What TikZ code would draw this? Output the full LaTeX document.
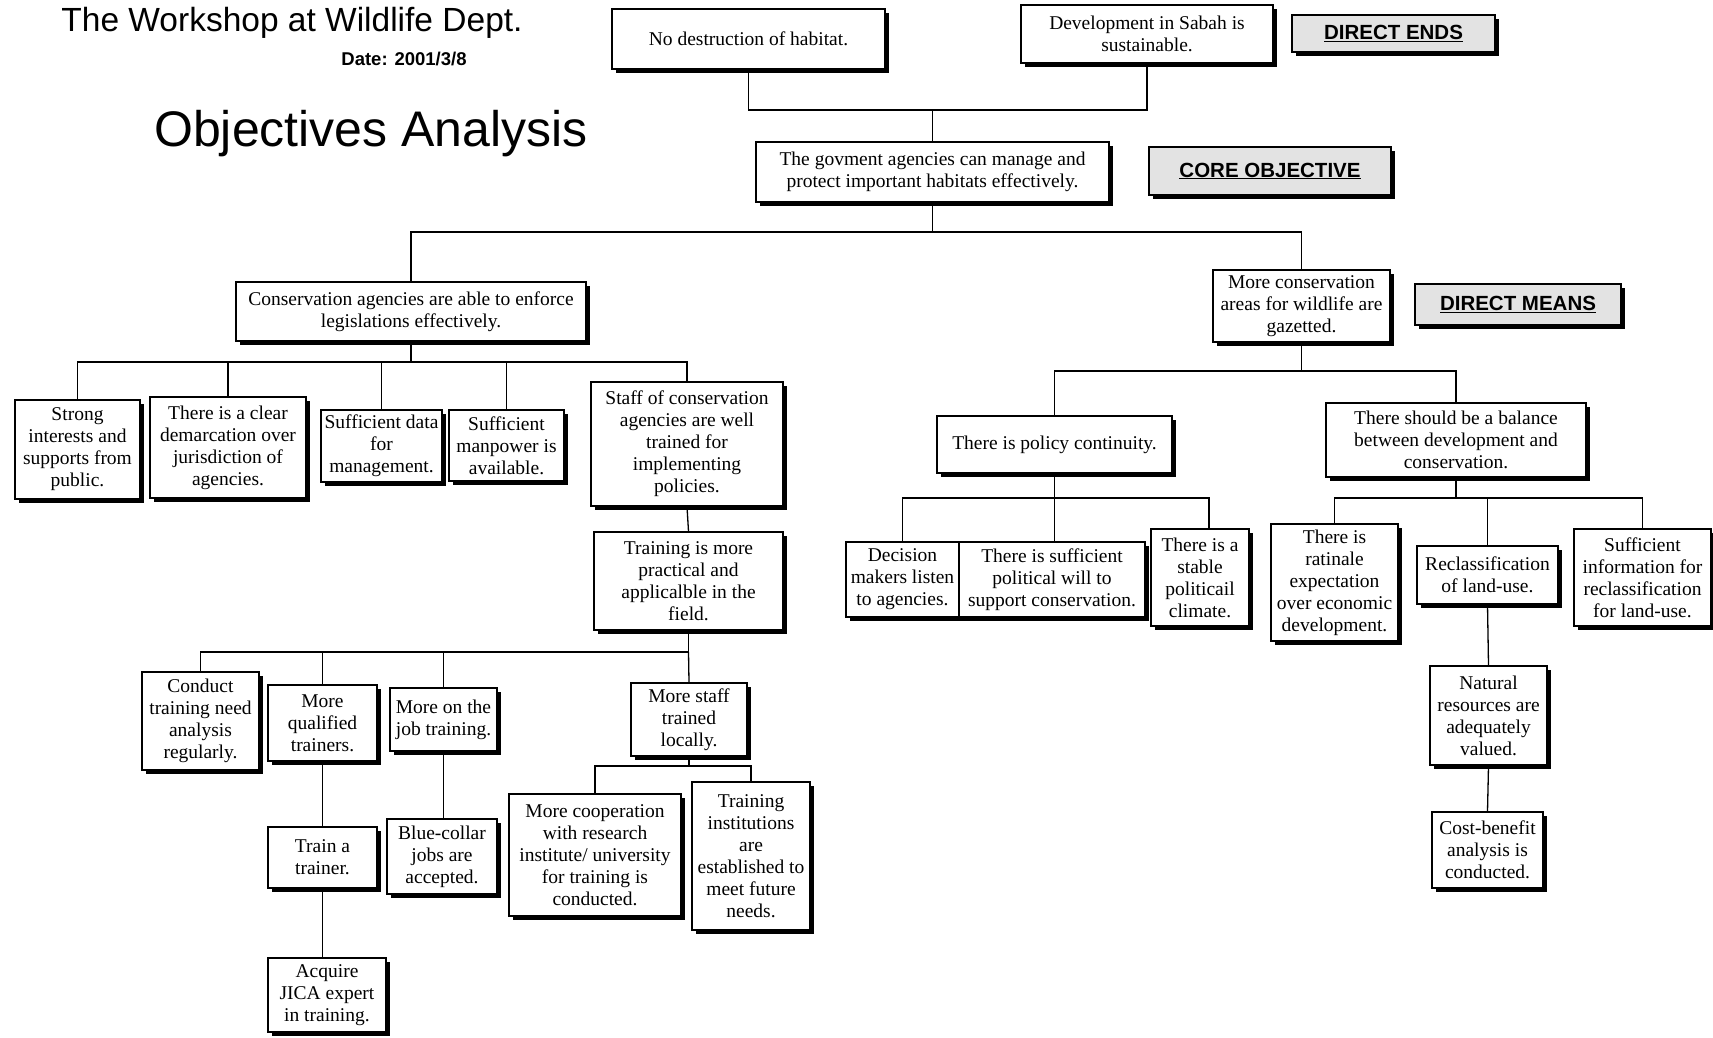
\documentclass[tikz,border=0pt]{standalone}
\usepackage{fontspec}
\setmainfont{Liberation Serif}
\newfontfamily\headfont{Liberation Sans}
\usetikzlibrary{shadows}
\begin{document}
\begin{tikzpicture}[x=1pt,y=-1pt,
  box/.style={draw, line width=1.5pt, fill=white,
    drop shadow={shadow xshift=4pt, shadow yshift=-4pt, opacity=1, fill=black},
    align=center, inner sep=1pt, font=\fontsize{19.5}{22}\selectfont},
  tag/.style={draw, line width=1.5pt, fill=gray!22,
    drop shadow={shadow xshift=4pt, shadow yshift=-4pt, opacity=1, fill=black},
    inner sep=1pt, font=\headfont\bfseries\fontsize{20.5}{24}\selectfont},
  link/.style={line width=1.3pt}]
\fill[white] (0,0) rectangle (1713,1037);
\useasboundingbox (0,0) rectangle (1713,1037);

% headings
\node[font=\headfont\fontsize{33.5}{38}\selectfont] (title) at (292,23) {The Workshop at Wildlife Dept.};
\node[font=\headfont\bfseries\fontsize{18.5}{22}\selectfont] (date) at (404,59) {Date: 2001/3/8};
\node[font=\headfont\fontsize{50}{56}\selectfont] (heading) at (371,134) {Objectives Analysis};

% direct ends and core objective
\node[box, minimum width=273, minimum height=60] (ends1) at (748.5,39) {No destruction of habitat.};
\node[box, minimum width=252, minimum height=58] (ends2) at (1147,34) {Development in Sabah is\\sustainable.};
\node[tag, minimum width=203, minimum height=37] (tagends) at (1393.5,33.5) {\underline{DIRECT ENDS}};
\node[box, minimum width=353, minimum height=60] (core) at (932.5,172) {The govment agencies can manage and\\protect important habitats effectively.};
\node[tag, minimum width=242, minimum height=48] (tagcore) at (1270,171) {\underline{CORE OBJECTIVE}};

% direct means
\node[box, minimum width=350, minimum height=59] (enforce) at (411,311.5) {Conservation agencies are able to enforce\\legislations effectively.};
\node[box, minimum width=177, minimum height=72] (areas) at (1301.5,306) {More conservation\\areas for wildlife are\\gazetted.};
\node[tag, minimum width=206, minimum height=41] (tagmeans) at (1518,304.5) {\underline{DIRECT MEANS}};

% left branch
\node[box, minimum width=125, minimum height=99] (strong) at (77.5,449.5) {Strong\\interests and\\supports from\\public.};
\node[box, minimum width=156, minimum height=101] (demarc) at (228,447.5) {There is a clear\\demarcation over\\jurisdiction of\\agencies.};
\node[box, minimum width=121, minimum height=72] (data) at (381.5,446) {Sufficient data\\for\\management.};
\node[box, minimum width=115, minimum height=71] (manpower) at (506.5,445.5) {Sufficient\\manpower is\\available.};
\node[box, minimum width=192, minimum height=124] (staff) at (687,444) {Staff of conservation\\agencies are well\\trained for\\implementing\\policies.};
\node[box, minimum width=189, minimum height=98] (practical) at (688.5,581) {Training is more\\practical and\\applicalble in the\\field.};

\node[box, minimum width=117, minimum height=98] (conduct) at (200.5,721) {Conduct\\training need\\analysis\\regularly.};
\node[box, minimum width=109, minimum height=76] (qualified) at (322.5,723) {More\\qualified\\trainers.};
\node[box, minimum width=107, minimum height=63] (onjob) at (443.5,719.5) {More on the\\job training.};
\node[box, minimum width=116, minimum height=73] (local) at (689,719.5) {More staff\\trained\\locally.};
\node[box, minimum width=109, minimum height=61] (trainer) at (322.5,857.5) {Train a\\trainer.};
\node[box, minimum width=118, minimum height=74] (jica) at (327,995) {Acquire\\JICA expert\\in training.};
\node[box, minimum width=110, minimum height=75] (blue) at (442,856.5) {Blue-collar\\jobs are\\accepted.};
\node[box, minimum width=172, minimum height=122] (coop) at (595,855) {More cooperation\\with research\\institute/ university\\for training is\\conducted.};
\node[box, minimum width=118, minimum height=148] (instit) at (751,856) {Training\\institutions\\are\\established to\\meet future\\needs.};

% right branch
\node[box, minimum width=235, minimum height=57] (policy) at (1054.5,444.5) {There is policy continuity.};
\node[box, minimum width=260, minimum height=74] (balance) at (1456,440) {There should be a balance\\between development and\\conservation.};
\node[box, minimum width=113, minimum height=75] (decision) at (902.5,579.5) {Decision\\makers listen\\to agencies.};
\node[box, minimum width=186, minimum height=75] (will) at (1052,579.5) {There is sufficient\\political will to\\support conservation.};
\node[box, minimum width=98, minimum height=97] (stable) at (1200,577.5) {There is a\\stable\\politicail\\climate.};
\node[box, minimum width=127, minimum height=117] (rational) at (1334.5,582.5) {There is\\ratinale\\expectation\\over economic\\development.};
\node[box, minimum width=141, minimum height=58] (reclass) at (1487.5,575) {Reclassification\\of land-use.};
\node[box, minimum width=137, minimum height=97] (info) at (1642.5,577.5) {Sufficient\\information for\\reclassification\\for land-use.};
\node[box, minimum width=117, minimum height=99] (natural) at (1488.5,715.5) {Natural\\resources are\\adequately\\valued.};
\node[box, minimum width=111, minimum height=76] (cost) at (1487.5,850) {Cost-benefit\\analysis is\\conducted.};

% bus levels
\coordinate (b1) at (0,110);
\coordinate (b2) at (0,232);
\coordinate (b3) at (0,362);
\coordinate (b4) at (0,652);
\coordinate (b5) at (0,766);
\coordinate (b6) at (0,371);
\coordinate (b7) at (0,498);

% connectors
\draw[link] (ends1.south) -- (ends1.south |- b1) -- (ends2.south |- b1) -- (ends2.south);
\draw[link] (core.north) -- (core.north |- b1);
\draw[link] (core.south) -- (core.south |- b2);
\draw[link] (enforce.north) -- (enforce.north |- b2) -- (areas.north |- b2) -- (areas.north);

\draw[link] (enforce.south) -- (enforce.south |- b3);
\draw[link] (strong.north) -- (strong.north |- b3) -- (staff.north |- b3) -- (staff.north);
\foreach \n in {demarc,data,manpower} \draw[link] (\n.north) -- (\n.north |- b3);

\draw[link] (staff.south) -- (practical.north);
\draw[link] (practical.south) -- (practical.south |- b4);
\draw[link] (conduct.north) -- (conduct.north |- b4) -- (practical.south |- b4);
\draw[link] (practical.south |- b4) -- (local.north);
\foreach \n in {qualified,onjob} \draw[link] (\n.north) -- (\n.north |- b4);

\draw[link] (qualified.south) -- (trainer.north);
\draw[link] (trainer.south) -- (trainer.south |- jica.north);
\draw[link] (onjob.south) -- (onjob.south |- blue.north);

\draw[link] (local.south) -- (local.south |- b5);
\draw[link] (coop.north) -- (coop.north |- b5) -- (instit.north |- b5) -- (instit.north);

\draw[link] (areas.south) -- (areas.south |- b6);
\draw[link] (policy.north) -- (policy.north |- b6) -- (balance.north |- b6) -- (balance.north);

\draw[link] (policy.south) -- (policy.south |- b7);
\draw[link] (decision.north) -- (decision.north |- b7) -- ([xshift=9pt]stable.north |- b7) -- ([xshift=9pt]stable.north);
\draw[link] (policy.south |- b7) -- (policy.south |- will.north);

\draw[link] (balance.south) -- (balance.south |- b7);
\draw[link] (rational.north) -- (rational.north |- b7) -- (info.north |- b7) -- (info.north);
\draw[link] (reclass.north) -- (reclass.north |- b7);
\draw[link] (reclass.south) -- (natural.north);
\draw[link] (natural.south) -- (cost.north);
\end{tikzpicture}
\end{document}
